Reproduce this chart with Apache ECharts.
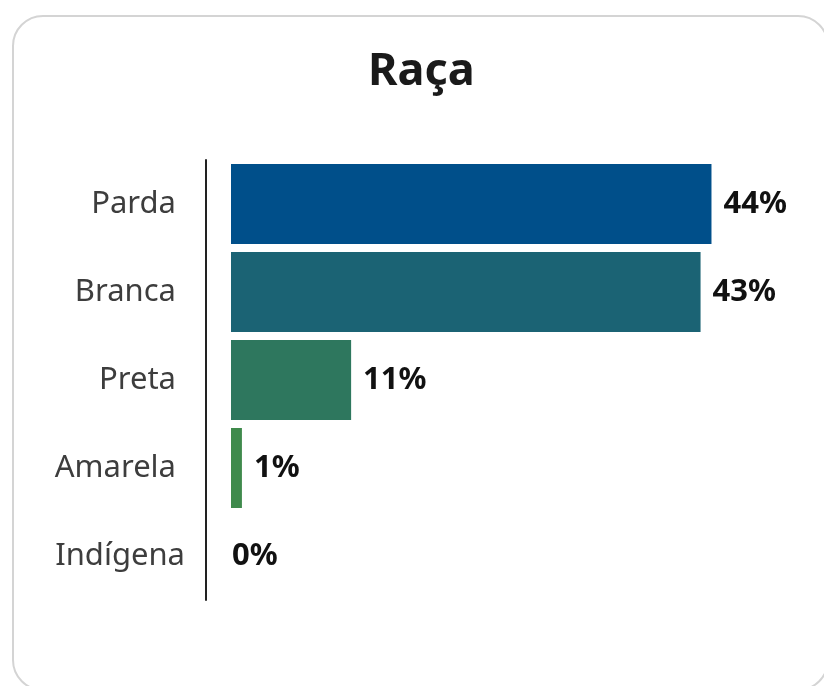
<!DOCTYPE html>
<html>
<head>
<meta charset="utf-8">
<script src="https://cdn.jsdelivr.net/npm/echarts@6/dist/echarts.min.js"></script>
<style>
  html, body { margin: 0; padding: 0; background: #ffffff; }
  #chart { width: 824px; height: 686px; }
</style>
</head>
<body>
<div id="chart"></div>
<script>
// Distribution by race (%)
const categories = ['Parda', 'Branca', 'Preta', 'Amarela', 'Indígena'];
const values = [44, 43, 11, 1, 0];
const barColors = ['#004f8a', '#1b6374', '#2e775e', '#3f8a4c', '#3f8a4c'];

const chart = echarts.init(document.getElementById('chart'), null, { renderer: 'canvas' });

const seriesData = values.map((v, i) => ({
  value: v,
  itemStyle: { color: barColors[i] },
  label: { distance: v === 0 ? 1 : 12 }
}));

const labelFont = { fontFamily: 'Noto Sans', fontSize: 31, color: '#3d3d3d' };

chart.setOption({
  animation: false,
  backgroundColor: '#ffffff',
  graphic: [{
    type: 'rect',
    z: -10,
    silent: true,
    shape: { x: 13, y: 16, width: 815, height: 674, r: 30 },
    style: { fill: '#ffffff', stroke: '#d4d4d4', lineWidth: 2 }
  }],
  title: {
    text: 'Raça',
    left: 363,
    top: 45,
    textStyle: { fontFamily: 'Noto Sans', fontWeight: 'bold', fontSize: 45, color: '#1a1a1a' }
  },
  grid: { left: 231, right: 47, top: 160, height: 440, containLabel: false },
  xAxis: { type: 'value', min: 0, max: 50, show: false },
  yAxis: {
    type: 'category',
    inverse: true,
    data: categories,
    offset: 25,
    axisLine: { show: true, onZero: false, lineStyle: { color: '#222222', width: 2 } },
    axisTick: { show: false },
    splitLine: { show: false },
    axisLabel: Object.assign({
      margin: 21,
      formatter: (name) => name === 'Indígena' ? '{n|' + name + '}' : '{p|' + name + '}',
      rich: {
        p: Object.assign({ padding: [0, 9, 0, 0] }, labelFont),
        n: Object.assign({}, labelFont)
      }
    }, labelFont)
  },
  series: [{
    type: 'bar',
    data: seriesData,
    barWidth: 80,
    label: {
      show: true,
      position: 'right',
      formatter: (p) => p.value + '%',
      fontFamily: 'Noto Sans',
      fontWeight: 'bold',
      fontSize: 31,
      color: '#111111'
    }
  }]
});
</script>
</body>
</html>
